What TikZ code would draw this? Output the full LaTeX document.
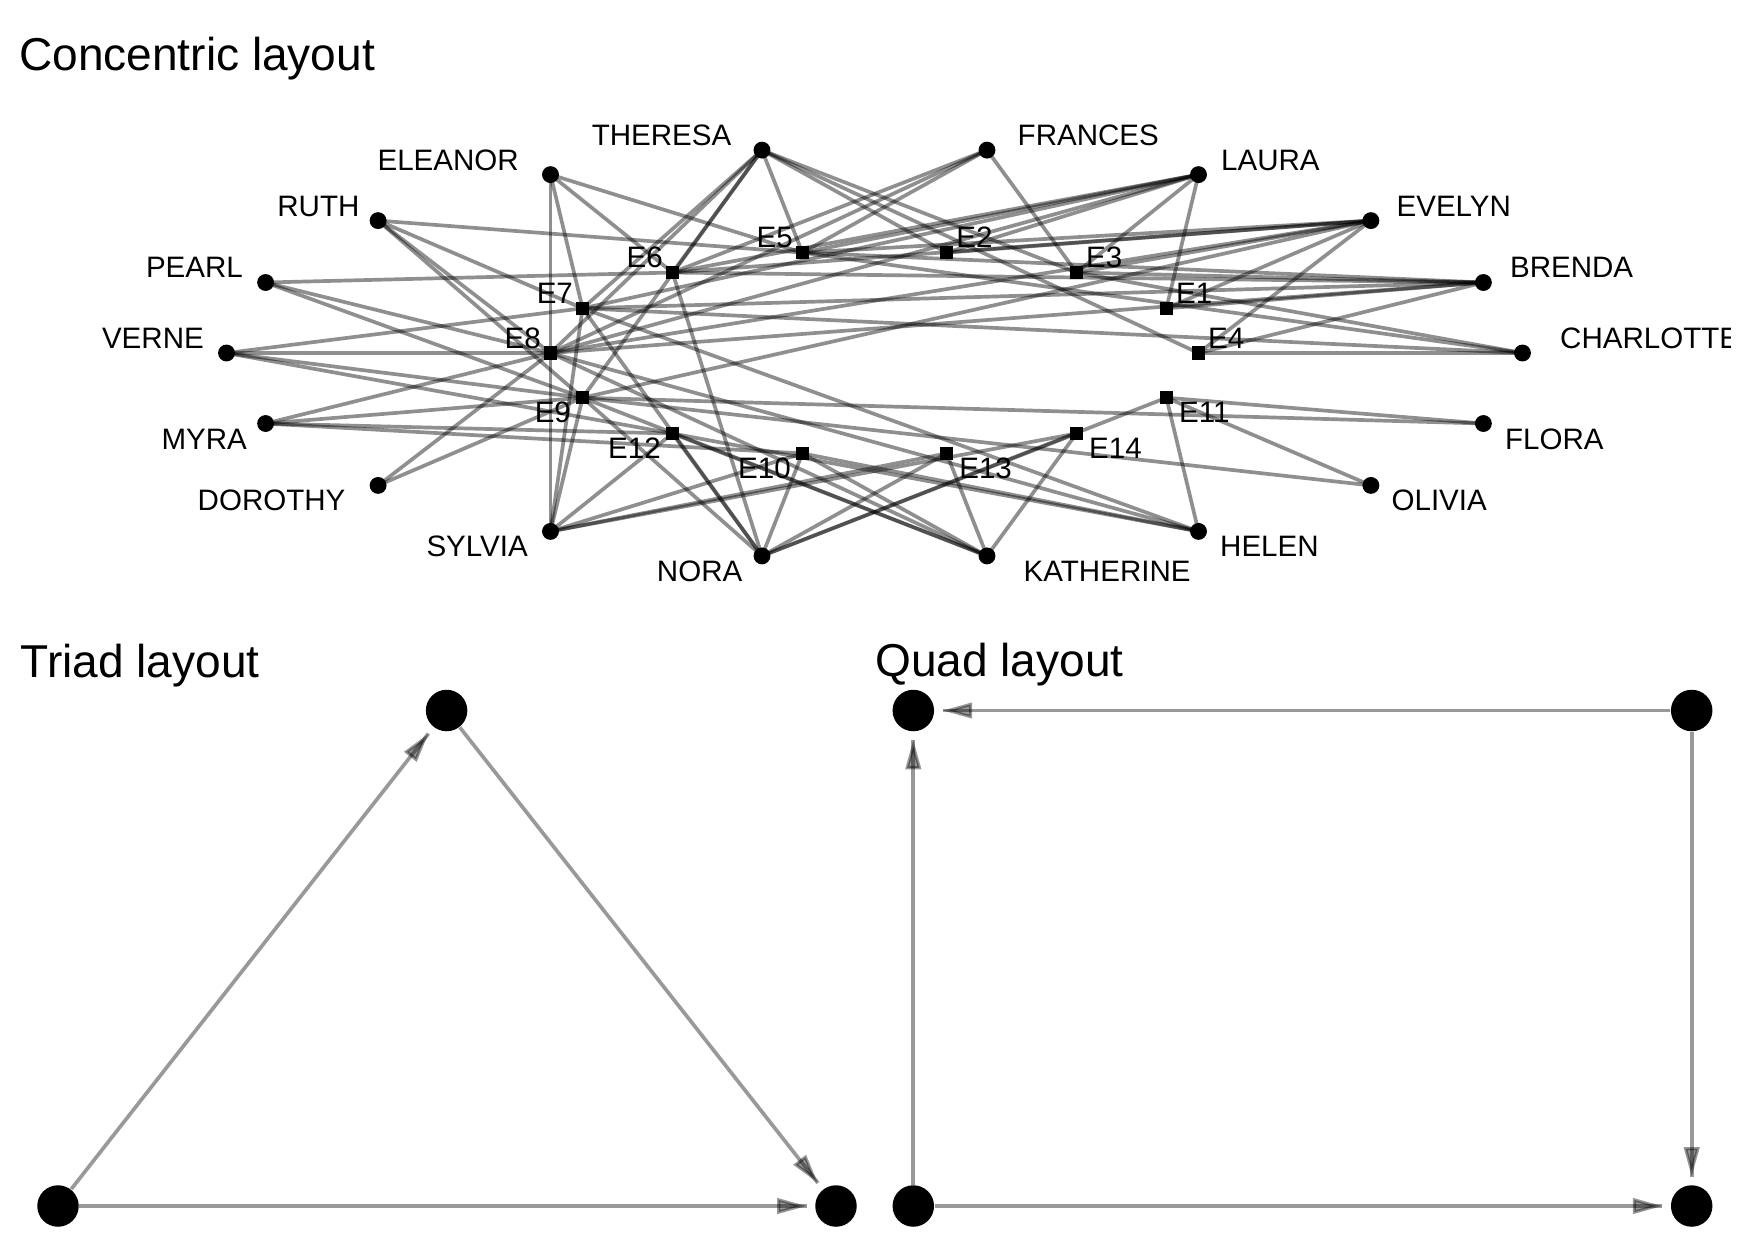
\documentclass[tikz,border=0pt]{standalone}
\usepackage{fontspec}
\setmainfont{Liberation Sans}
\usetikzlibrary{arrows.meta,calc,decorations.markings}
\pgfdeclarelayer{background}
\pgfsetlayers{background,main}
\begin{document}
\begin{tikzpicture}[x=0.01cm,y=-0.01cm,
  woman/.style={circle,fill=black,inner sep=0pt,minimum size=4.8pt},
  event/.style={rectangle,fill=black,inner sep=0pt,minimum size=3.8pt},
  big/.style={circle,fill=black,inner sep=0pt,minimum size=11.8pt},
  lab/.style={font=\fontsize{8.4}{10}\selectfont,inner sep=0pt},
  ttl/.style={font=\fontsize{13.1}{15.5}\selectfont,inner sep=0pt,anchor=base west},
  edge/.style={draw=black,opacity=0.44,line width=1.05pt},
  arrowedge/.style={draw=black,opacity=0.4,line width=1.05pt,postaction={decorate},
    decoration={markings,mark=at position 1 with {\arrow{Triangle[length=8.4pt,width=4.4pt,line width=0.9pt]}}}},
]
\useasboundingbox (0,0) rectangle (1750,1250);

% titles
\node[ttl] (t1) at (18.5,70.7) {Concentric layout};
\node[ttl] (t2) at (20,677) {Triad layout};
\node[ttl] (t3) at (874.5,676) {Quad layout};

% women
\node[woman] (CHARLOTTE) at (1522.5,353) {};
\node[woman] (BRENDA) at (1483.4,282.5) {};
\node[woman] (EVELYN) at (1370.9,220.6) {};
\node[woman] (LAURA) at (1198.5,174.6) {};
\node[woman] (FRANCES) at (987.0,150.1) {};
\node[woman] (THERESA) at (762.0,150.1) {};
\node[woman] (ELEANOR) at (550.5,174.6) {};
\node[woman] (RUTH) at (378.1,220.6) {};
\node[woman] (PEARL) at (265.6,282.5) {};
\node[woman] (VERNE) at (226.5,353) {};
\node[woman] (MYRA) at (265.6,423.5) {};
\node[woman] (DOROTHY) at (378.1,485.4) {};
\node[woman] (SYLVIA) at (550.5,531.4) {};
\node[woman] (NORA) at (762.0,555.9) {};
\node[woman] (KATHERINE) at (987.0,555.9) {};
\node[woman] (HELEN) at (1198.5,531.4) {};
\node[woman] (OLIVIA) at (1370.9,485.4) {};
\node[woman] (FLORA) at (1483.4,423.5) {};

% events
\node[event] (E4) at (1198.5,353) {};
\node[event] (E1) at (1166.4,308.3) {};
\node[event] (E3) at (1076.5,272.5) {};
\node[event] (E2) at (946.6,252.6) {};
\node[event] (E5) at (802.4,252.6) {};
\node[event] (E6) at (672.5,272.5) {};
\node[event] (E7) at (582.6,308.3) {};
\node[event] (E8) at (550.5,353) {};
\node[event] (E9) at (582.6,397.7) {};
\node[event] (E12) at (672.5,433.5) {};
\node[event] (E10) at (802.4,453.4) {};
\node[event] (E13) at (946.6,453.4) {};
\node[event] (E14) at (1076.5,433.5) {};
\node[event] (E11) at (1166.4,397.7) {};

% background and edges
\begin{pgfonlayer}{background}
\fill[white] (0,0) rectangle (1750,1250);
\foreach \w/\es in {EVELYN/{E1,E2,E3,E4,E5,E6,E8,E9},
  LAURA/{E1,E2,E3,E5,E6,E7,E8},
  THERESA/{E2,E3,E4,E5,E6,E7,E8,E9},
  BRENDA/{E1,E3,E4,E5,E6,E7,E8},
  CHARLOTTE/{E3,E4,E5,E7},
  FRANCES/{E3,E5,E6,E8},
  ELEANOR/{E5,E6,E7,E8},
  PEARL/{E6,E8,E9},
  RUTH/{E5,E7,E8,E9},
  VERNE/{E7,E8,E9,E12},
  MYRA/{E8,E9,E10,E12},
  KATHERINE/{E8,E9,E10,E12,E13,E14},
  SYLVIA/{E7,E8,E9,E10,E12,E13,E14},
  NORA/{E6,E7,E9,E10,E11,E12,E13,E14},
  HELEN/{E7,E8,E10,E11,E12},
  DOROTHY/{E8,E9},
  OLIVIA/{E9,E11},
  FLORA/{E9,E11}}{
  \foreach \e in \es {\draw[edge] (\w.center) -- (\e.center);}
}
\end{pgfonlayer}

% women labels
\node[lab,anchor=base east] (lTHERESA) at ($(THERESA)+(-30,-4.6)$) {THERESA};
\node[lab,anchor=base east] (lELEANOR) at ($(ELEANOR)+(-31,-4.6)$) {ELEANOR};
\node[lab,anchor=base east] (lRUTH) at ($(RUTH)+(-18,-4.6)$) {RUTH};
\node[lab,anchor=base east] (lPEARL) at ($(PEARL)+(-22,-4.6)$) {PEARL};
\node[lab,anchor=base east] (lVERNE) at ($(VERNE)+(-22,-4.6)$) {VERNE};
\node[lab,anchor=base west] (lFRANCES) at ($(FRANCES)+(30,-4.6)$) {FRANCES};
\node[lab,anchor=base west] (lLAURA) at ($(LAURA)+(22,-4.6)$) {LAURA};
\node[lab,anchor=base west] (lEVELYN) at ($(EVELYN)+(25,-4.6)$) {EVELYN};
\node[lab,anchor=base west] (lBRENDA) at ($(BRENDA)+(26,-4.6)$) {BRENDA};
\begin{scope}
\clip (0,0) rectangle (1730,1250);
\node[lab,anchor=base west] (lCHARLOTTE) at ($(CHARLOTTE)+(37,-4.6)$) {CHARLOTTE};
\end{scope}
\node[lab,anchor=base east] (lMYRA) at ($(MYRA)+(-18,25.5)$) {MYRA};
\node[lab,anchor=base east] (lDOROTHY) at ($(DOROTHY)+(-32,25.5)$) {DOROTHY};
\node[lab,anchor=base east] (lSYLVIA) at ($(SYLVIA)+(-22,25.5)$) {SYLVIA};
\node[lab,anchor=base east] (lNORA) at ($(NORA)+(-19,25.5)$) {NORA};
\node[lab,anchor=base west] (lKATHERINE) at ($(KATHERINE)+(36,25.5)$) {KATHERINE};
\node[lab,anchor=base west] (lHELEN) at ($(HELEN)+(21,25.5)$) {HELEN};
\node[lab,anchor=base west] (lOLIVIA) at ($(OLIVIA)+(20,25.5)$) {OLIVIA};
\node[lab,anchor=base west] (lFLORA) at ($(FLORA)+(21,25.5)$) {FLORA};

% event labels
\foreach \e in {E5,E6,E7,E8}{\node[lab,anchor=base east] (l\e) at ($(\e)+(-9,-5)$) {\e};}
\foreach \e in {E2,E3,E1,E4}{\node[lab,anchor=base west] (l\e) at ($(\e)+(9,-5)$) {\e};}
\foreach \e in {E9,E12,E10}{\node[lab,anchor=base east] (l\e) at ($(\e)+(-11,25)$) {\e};}
\foreach \e in {E11,E14,E13}{\node[lab,anchor=base west] (l\e) at ($(\e)+(12,25)$) {\e};}

% triad
\node[big] (T1) at (446.6,710.5) {};
\node[big] (T2) at (58,1206) {};
\node[big] (T3) at (836,1206) {};
\draw[arrowedge] (T2) -- ($(T1.center)!8.34pt!(T2.center)$);
\draw[arrowedge] (T1) -- ($(T3.center)!8.34pt!(T1.center)$);
\draw[arrowedge] (T2) -- ($(T3.center)!8.34pt!(T2.center)$);

% quad
\node[big] (Q1) at (913.3,710.5) {};
\node[big] (Q2) at (1691.7,710.5) {};
\node[big] (Q3) at (913.3,1206) {};
\node[big] (Q4) at (1691.7,1206) {};
\draw[arrowedge] (Q2) -- ($(Q1.center)!8.34pt!(Q2.center)$);
\draw[arrowedge] (Q3) -- ($(Q1.center)!8.34pt!(Q3.center)$);
\draw[arrowedge] (Q2) -- ($(Q4.center)!8.34pt!(Q2.center)$);
\draw[arrowedge] (Q3) -- ($(Q4.center)!8.34pt!(Q3.center)$);
\end{tikzpicture}
\end{document}
